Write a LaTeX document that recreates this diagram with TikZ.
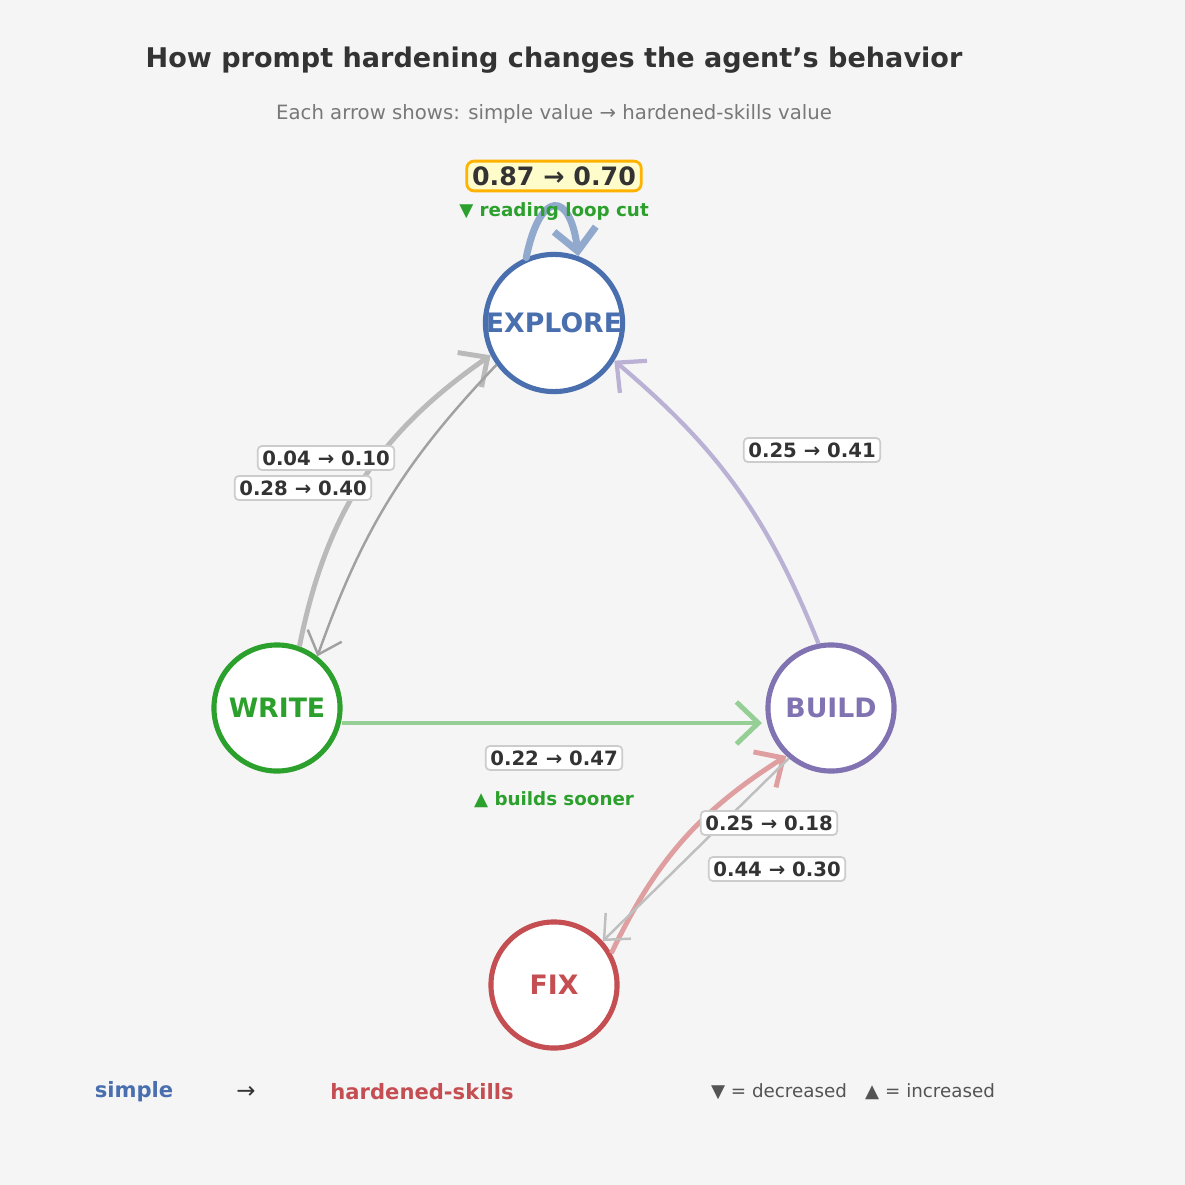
\documentclass[tikz,border=0pt]{standalone}
\usepackage{fontspec}
\setmainfont{DejaVu Sans}
\usetikzlibrary{arrows.meta}
\definecolor{bg}{HTML}{F5F5F5}
\definecolor{cblue}{HTML}{4A6FAE}
\definecolor{cgreen}{HTML}{2CA02C}
\definecolor{cpurple}{HTML}{8172B2}
\definecolor{cred}{HTML}{C44E52}
\definecolor{dark}{HTML}{333333}
\tikzset{
  x=0.01cm,y=-0.01cm,
  state/.style={circle,draw,fill=white,line width=1.45pt,minimum size=1.26cm,inner sep=0pt,font=\fontsize{7.6}{8}\selectfont\bfseries},
  lbl/.style={draw=black!20,fill=white,rounded corners=1.2pt,line width=0.5pt,inner sep=1.3pt,font=\fontsize{5.6}{6}\selectfont\bfseries,text=dark},
  barb/.style={-{Straight Barb[length=2.2mm,width=4.2mm]}},
}
\begin{document}
\begin{tikzpicture}
\fill[bg] (0,0) rectangle (1185,1185);
\useasboundingbox (0,0) rectangle (1185,1185);
\node[font=\fontsize{7.7}{9}\selectfont\bfseries,text=dark] (title) at (554,60) {How prompt hardening changes the agent's behavior};
\node[font=\fontsize{5.6}{7}\selectfont,text=black!53] (sub) at (554,114) {Each arrow shows: simple value → hardened-skills value};
\node[state,draw=cblue,text=cblue] (e) at (554,323) {EXPLORE};
\node[state,draw=cgreen,text=cgreen] (w) at (277,708) {WRITE};
\node[state,draw=cpurple,text=cpurple] (b) at (831,708) {BUILD};
\node[state,draw=cred,text=cred] (f) at (554,985) {FIX};
% self loop
\draw[barb,line width=2pt,draw=cblue!60,line cap=round] (e.113) .. controls (540,190) and (570,190) .. (e.70);
% write -> explore
\draw[barb,line width=1.4pt,draw=black!27] (w.70) to[bend left=22] (e.207);
\draw[barb,line width=0.7pt,draw=black!37,-{Straight Barb[length=2mm,width=3.6mm]}] (e.216) to[bend right=12] (w.52);
\draw[barb,line width=1.2pt,draw=cpurple!55] (b.101) to[bend right=14] (e.-32);
\draw[barb,line width=1.4pt,draw=cgreen!50] (342,723) coordinate (ws) -- (762,723) coordinate (be);
\draw[barb,line width=1.4pt,draw=cred!55] (f.29) to[bend left=16] (b.227);
\draw[line width=0.7pt,draw=black!25,-{Straight Barb[length=2mm,width=3.6mm]}] (b.-130) -- (f.42);
% labels
\node[draw=black!20,fill=white,draw=orange!60!yellow,fill=yellow!10!orange!15,line width=0.8pt,rounded corners=2pt,inner sep=1.5pt,font=\fontsize{7.2}{8}\selectfont\bfseries,text=dark,fill=orange!12!yellow!20] (l0) at (554,176) {0.87 → 0.70};
\node[font=\fontsize{5.2}{6}\selectfont\bfseries,text=cgreen] (n0) at (554,212) {▼ reading loop cut};
\node[lbl] (l1) at (326,458) {0.04 → 0.10};
\node[lbl] (l2) at (303,488) {0.28 → 0.40};
\node[lbl] (l3) at (812,450) {0.25 → 0.41};
\node[lbl] (l4) at (554,758) {0.22 → 0.47};
\node[font=\fontsize{5.2}{6}\selectfont\bfseries,text=cgreen] (n1) at (554,800) {▲ builds sooner};
\node[lbl] (l5) at (769,823) {0.25 → 0.18};
\node[lbl] (l6) at (777,869) {0.44 → 0.30};
% legend
\node[font=\fontsize{6}{7}\selectfont\bfseries,text=cblue] (g1) at (134,1092) {simple};
\node[font=\fontsize{6.5}{7}\selectfont,text=dark] (g2) at (246,1092) {→};
\node[font=\fontsize{6}{7}\selectfont\bfseries,text=cred] (g3) at (422,1092) {hardened-skills};
\node[font=\fontsize{5.2}{7}\selectfont,text=black!67] (g4) at (853,1092) {▼ = decreased\quad ▲ = increased};
\end{tikzpicture}
\end{document}
